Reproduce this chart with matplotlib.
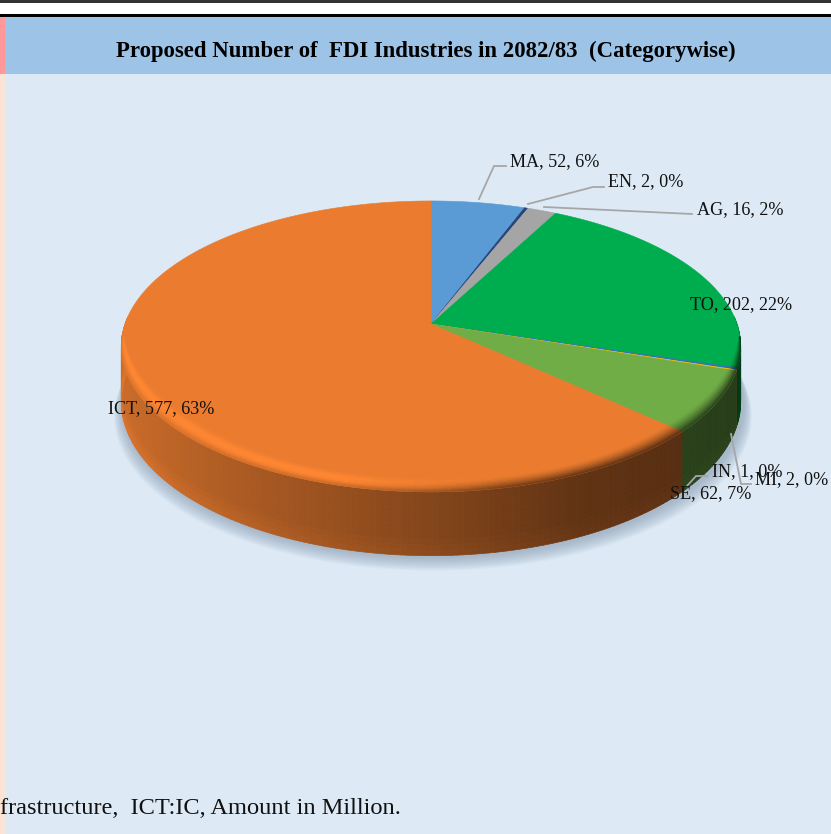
import numpy as np
import matplotlib
matplotlib.use("Agg")
import matplotlib.pyplot as plt
from matplotlib.patches import Polygon, Rectangle
from matplotlib.collections import PolyCollection
from matplotlib.colors import to_rgb

plt.rcParams['font.family'] = ['Liberation Serif', 'DejaVu Serif']

categories = ["MA", "EN", "AG", "TO", "MI", "IN", "SE", "ICT"]
values = [52, 2, 16, 202, 2, 1, 62, 577]
percents = ["6%", "0%", "2%", "22%", "0%", "0%", "7%", "63%"]
colors = ["#5B9BD5", "#264478", "#A5A5A5", "#00AD4E", "#2E75B6", "#FFC000", "#70AD47", "#EB7C2F"]
title = "Proposed Number of  FDI Industries in 2082/83  (Categorywise)"
footnote = "frastructure,  ICT:IC, Amount in Million."

W, H = 831, 834
fig = plt.figure(figsize=(W/100, H/100), dpi=100)
ax = fig.add_axes([0, 0, 1, 1])
ax.set_xlim(0, W); ax.set_ylim(H, 0); ax.axis("off")

CX, CY, R, RY, K, TH = 431, 324, 306, 142, 0.154, 54

def proj(theta, r=1.0, z=0.0):
    u, v = r*np.sin(theta), r*np.cos(theta)
    s = 1/(1 + K*v)
    return CX + R*u*s, CY - RY*v*s + z*TH*s

def shade(c, f):
    rgb = np.array(to_rgb(c))*f
    return tuple(np.clip(rgb, 0, 1))

def wall_f(xm):
    return np.interp(xm, [-1, -0.75, 0, 0.42, 1], [0.88, 0.80, 0.56, 0.41, 0.34])

# background panels
ax.add_patch(Rectangle((0, 0), W, H, color="#DDEAF6", lw=0))
ax.add_patch(Rectangle((0, 0), W, 3, color="#333333", lw=0))
ax.add_patch(Rectangle((0, 3), W, 11, color="white", lw=0))
ax.add_patch(Rectangle((0, 14), W, 3, color="black", lw=0))
ax.add_patch(Rectangle((0, 17), W, 57, color="#9DC3E6", lw=0))
ax.add_patch(Rectangle((0, 17), 5, 57, color="#FF9999", lw=0))
ax.add_patch(Rectangle((0, 74), 5, H-74, color="#FBE3D6", lw=0))
ax.text(426, 51, title, ha="center", va="center", fontsize=16.4, fontweight="bold",
        color="black", zorder=9)
ax.text(0, 808, footnote, ha="left", va="center", fontsize=17.6, color="#111111")

# soft shadow
th = np.linspace(0, 2*np.pi, 361)
for i in range(10):
    g = 15 - i*1.4
    x, y = proj(th, 1.0, 1.0)
    ax.add_patch(Polygon(np.c_[CX + (x-CX)*(1+g*0.6/R) + 2, y + g], closed=True,
                         fc="#7f93a8", ec="none", alpha=0.07, zorder=1))

# slices
total = sum(values)
edges = np.cumsum([0] + values) / total * 2*np.pi

# side wall: shade varies across the wall and along its height
z_edges = np.linspace(0, 1, 13)
polys, fcs = [], []
for i, c in enumerate(colors):
    a0, a1 = edges[i], edges[i+1]
    t = np.linspace(a0, a1, max(2, int((a1-a0)/np.radians(1.0)) + 1))
    for t0, t1 in zip(t[:-1], t[1:]):
        tm = (t0 + t1)/2
        if np.cos(tm) > 0.05:
            continue
        xm = np.sin(tm)
        for z0, z1 in zip(z_edges[:-1], z_edges[1:]):
            zm = (z0 + z1)/2
            f = wall_f(xm)
            f *= 1 + 0.08*np.clip((zm - 0.7)/0.3, 0, 1)
            tt = np.array([t0, t1])
            xa, ya = proj(tt, 1, z0)
            xb, yb = proj(tt[::-1], 1, z1)
            polys.append(np.c_[np.r_[xa, xb], np.r_[ya, yb]])
            fcs.append(shade(c, f))
ax.add_collection(PolyCollection(polys, facecolors=fcs, edgecolors=fcs, linewidths=0.5, zorder=3))

# top faces
for i, c in enumerate(colors):
    t = np.linspace(edges[i], edges[i+1], max(3, int((edges[i+1]-edges[i])/np.radians(0.5))))
    x, y = proj(t)
    ax.add_patch(Polygon(np.c_[np.r_[CX, x], np.r_[CY, y]], closed=True,
                         fc=c, ec=c, lw=0.4, zorder=4))

# rounded bevel along the front rim of the top face
r_steps = np.linspace(0, 1, 13)
polys, fcs = [], []
for i, c in enumerate(colors):
    a0, a1 = edges[i], edges[i+1]
    t = np.linspace(a0, a1, max(2, int((a1-a0)/np.radians(1.0)) + 1))
    for t0, t1 in zip(t[:-1], t[1:]):
        tm = (t0 + t1)/2
        w = np.clip((-np.cos(tm) - 0.08)/0.6, 0, 1)**0.7
        if w <= 0:
            continue
        xm = np.sin(tm)
        dark = np.clip((xm + 0.25)/0.45, 0, 1)   # 0 on the lit left, 1 on the shaded right
        for q0, q1 in zip(r_steps[:-1], r_steps[1:]):
            qm = (q0 + q1)/2                      # 0 = inner edge, 1 = outer edge
            lit = 1 + 0.09*np.sin(np.pi*qm)**2 + (wall_f(xm) - 1)*np.clip((qm - 0.75)/0.25, 0, 1)*0.4
            shd = 1 + (wall_f(xm) - 1)*np.clip((qm - 0.25)/0.75, 0, 1)**1.5
            f = lit*(1 - dark) + shd*dark
            r0, r1 = 1 - 0.075*w*(1 - q0), 1 - 0.075*w*(1 - q1)
            tt = np.array([t0, t1])
            xa, ya = proj(tt, r0)
            xb, yb = proj(tt[::-1], r1)
            polys.append(np.c_[np.r_[xa, xb], np.r_[ya, yb]])
            fcs.append(shade(c, f))
ax.add_collection(PolyCollection(polys, facecolors=fcs, edgecolors=fcs, linewidths=0.4, zorder=5))

# label positions and leader lines, in pixels
label_xy = {"MA": (510, 162), "EN": (608, 182), "AG": (697, 210), "TO": (690, 305),
            "MI": (755, 480), "IN": (712, 472), "SE": (670, 494), "ICT": (108, 409)}
leaders = {"MA": [(479, 199), (494, 166), (506, 166)],
           "EN": [(528, 204), (593, 187), (604, 187)],
           "AG": [(544, 207), (692, 214)],
           "MI": [(731, 434), (741, 484), (751, 484)],
           "IN": [(687, 486), (696, 476), (707, 476)]}
for k, pts in leaders.items():
    p = np.array(pts)
    ax.plot(p[:, 0], p[:, 1], color="#A6A6A6", lw=1.3, zorder=6)
for name, v, p in zip(categories, values, percents):
    x, y = label_xy[name]
    ax.text(x, y, f"{name}, {v}, {p}", ha="left", va="center", fontsize=13.1,
            color="#111111", zorder=8)

fig.savefig("out.png", dpi=100)
